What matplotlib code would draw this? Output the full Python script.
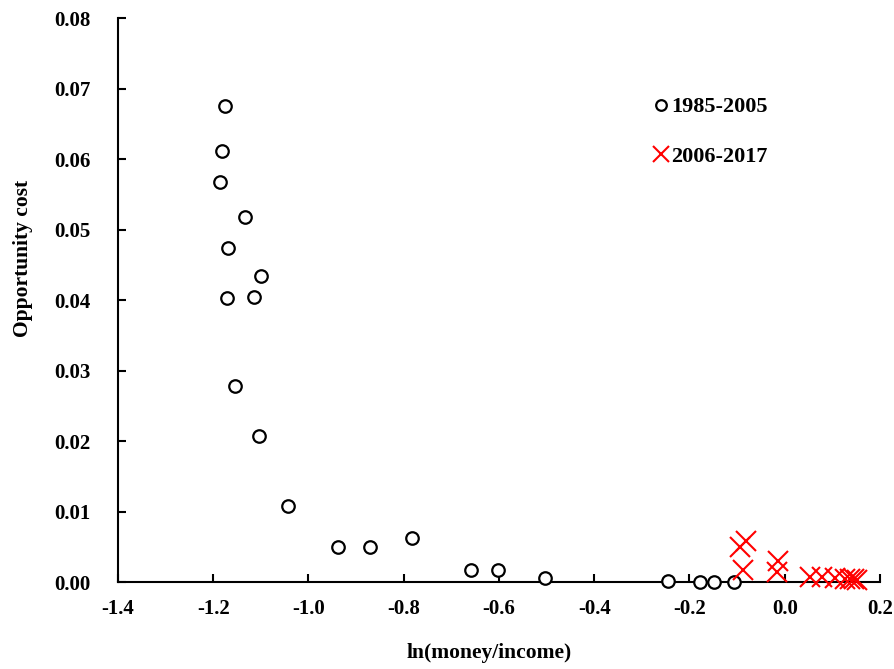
import numpy as np
import matplotlib.pyplot as plt
from matplotlib.ticker import FormatStrFormatter

plt.rcParams['font.family'] = ['Liberation Serif', 'DejaVu Serif']
plt.rcParams['font.weight'] = 'bold'
plt.rcParams['axes.unicode_minus'] = False

# 1985-2005
x_early = [-1.176, -1.182, -1.186, -1.134, -1.168, -1.100, -1.172, -1.115, -1.155, -1.103,
           -1.042, -0.939, -0.870, -0.782, -0.659, -0.602, -0.504, -0.246, -0.177, -0.148, -0.106]
y_early = [0.0675, 0.0611, 0.0567, 0.0518, 0.0474, 0.0434, 0.0403, 0.0404, 0.0278, 0.0207,
           0.0108, 0.0050, 0.0050, 0.0062, 0.0017, 0.0017, 0.0006, 0.0001, 0.0000, 0.0000, 0.0000]

# 2006-2017
x_late = [-0.093, -0.081, -0.087, -0.014, -0.016, 0.053, 0.078, 0.106, 0.127, 0.138, 0.146, 0.152]
y_late = [0.0050, 0.0058, 0.0017, 0.0030, 0.0014, 0.0007, 0.0007, 0.0006, 0.0005, 0.0004, 0.0004, 0.0003]

x_ticks = [-1.4, -1.2, -1.0, -0.8, -0.6, -0.4, -0.2, 0.0, 0.2]
y_ticks = [0.00, 0.01, 0.02, 0.03, 0.04, 0.05, 0.06, 0.07, 0.08]

fig = plt.figure(figsize=(8.95, 6.69), dpi=100)
ax = fig.add_axes([0.1318, 0.130, 0.8514, 0.843])

ax.plot(x_early, y_early, 'o', ms=9, mfc='white', mec='black', mew=1.6,
        label='1985-2005', clip_on=False, zorder=3)
ax.plot(x_late, y_late, 'x', ms=14, color='red', mew=1.5,
        label='2006-2017', clip_on=False, zorder=4)

ax.set_xlim(-1.4, 0.2)
ax.set_ylim(0, 0.08)
ax.set_xticks(x_ticks)
ax.set_yticks(y_ticks)
ax.xaxis.set_major_formatter(FormatStrFormatter('%.1f'))
ax.yaxis.set_major_formatter(FormatStrFormatter('%.2f'))

for s in ['top', 'right']:
    ax.spines[s].set_visible(False)
for s in ['left', 'bottom']:
    ax.spines[s].set_linewidth(1.5)

ax.tick_params(axis='both', direction='in', length=6, width=1.5, labelsize=15)
ax.tick_params(axis='x', pad=12)
ax.tick_params(axis='y', pad=20)

ax.set_xlabel('ln(money/income)', fontsize=15.5, fontweight='bold')
ax.set_ylabel('Opportunity cost', fontsize=15.5, fontweight='bold')
ax.xaxis.set_label_coords(0.487, -0.108)
ax.yaxis.set_label_coords(-0.112, 0.573)

ax.legend(loc='upper left', bbox_to_anchor=(0.688, 0.88), frameon=False,
          handlelength=0.7, handletextpad=0.1, labelspacing=1.3, borderpad=0,
          markerscale=0.85, prop={'weight': 'bold', 'size': 16})

fig.savefig('out.png', dpi=100)
